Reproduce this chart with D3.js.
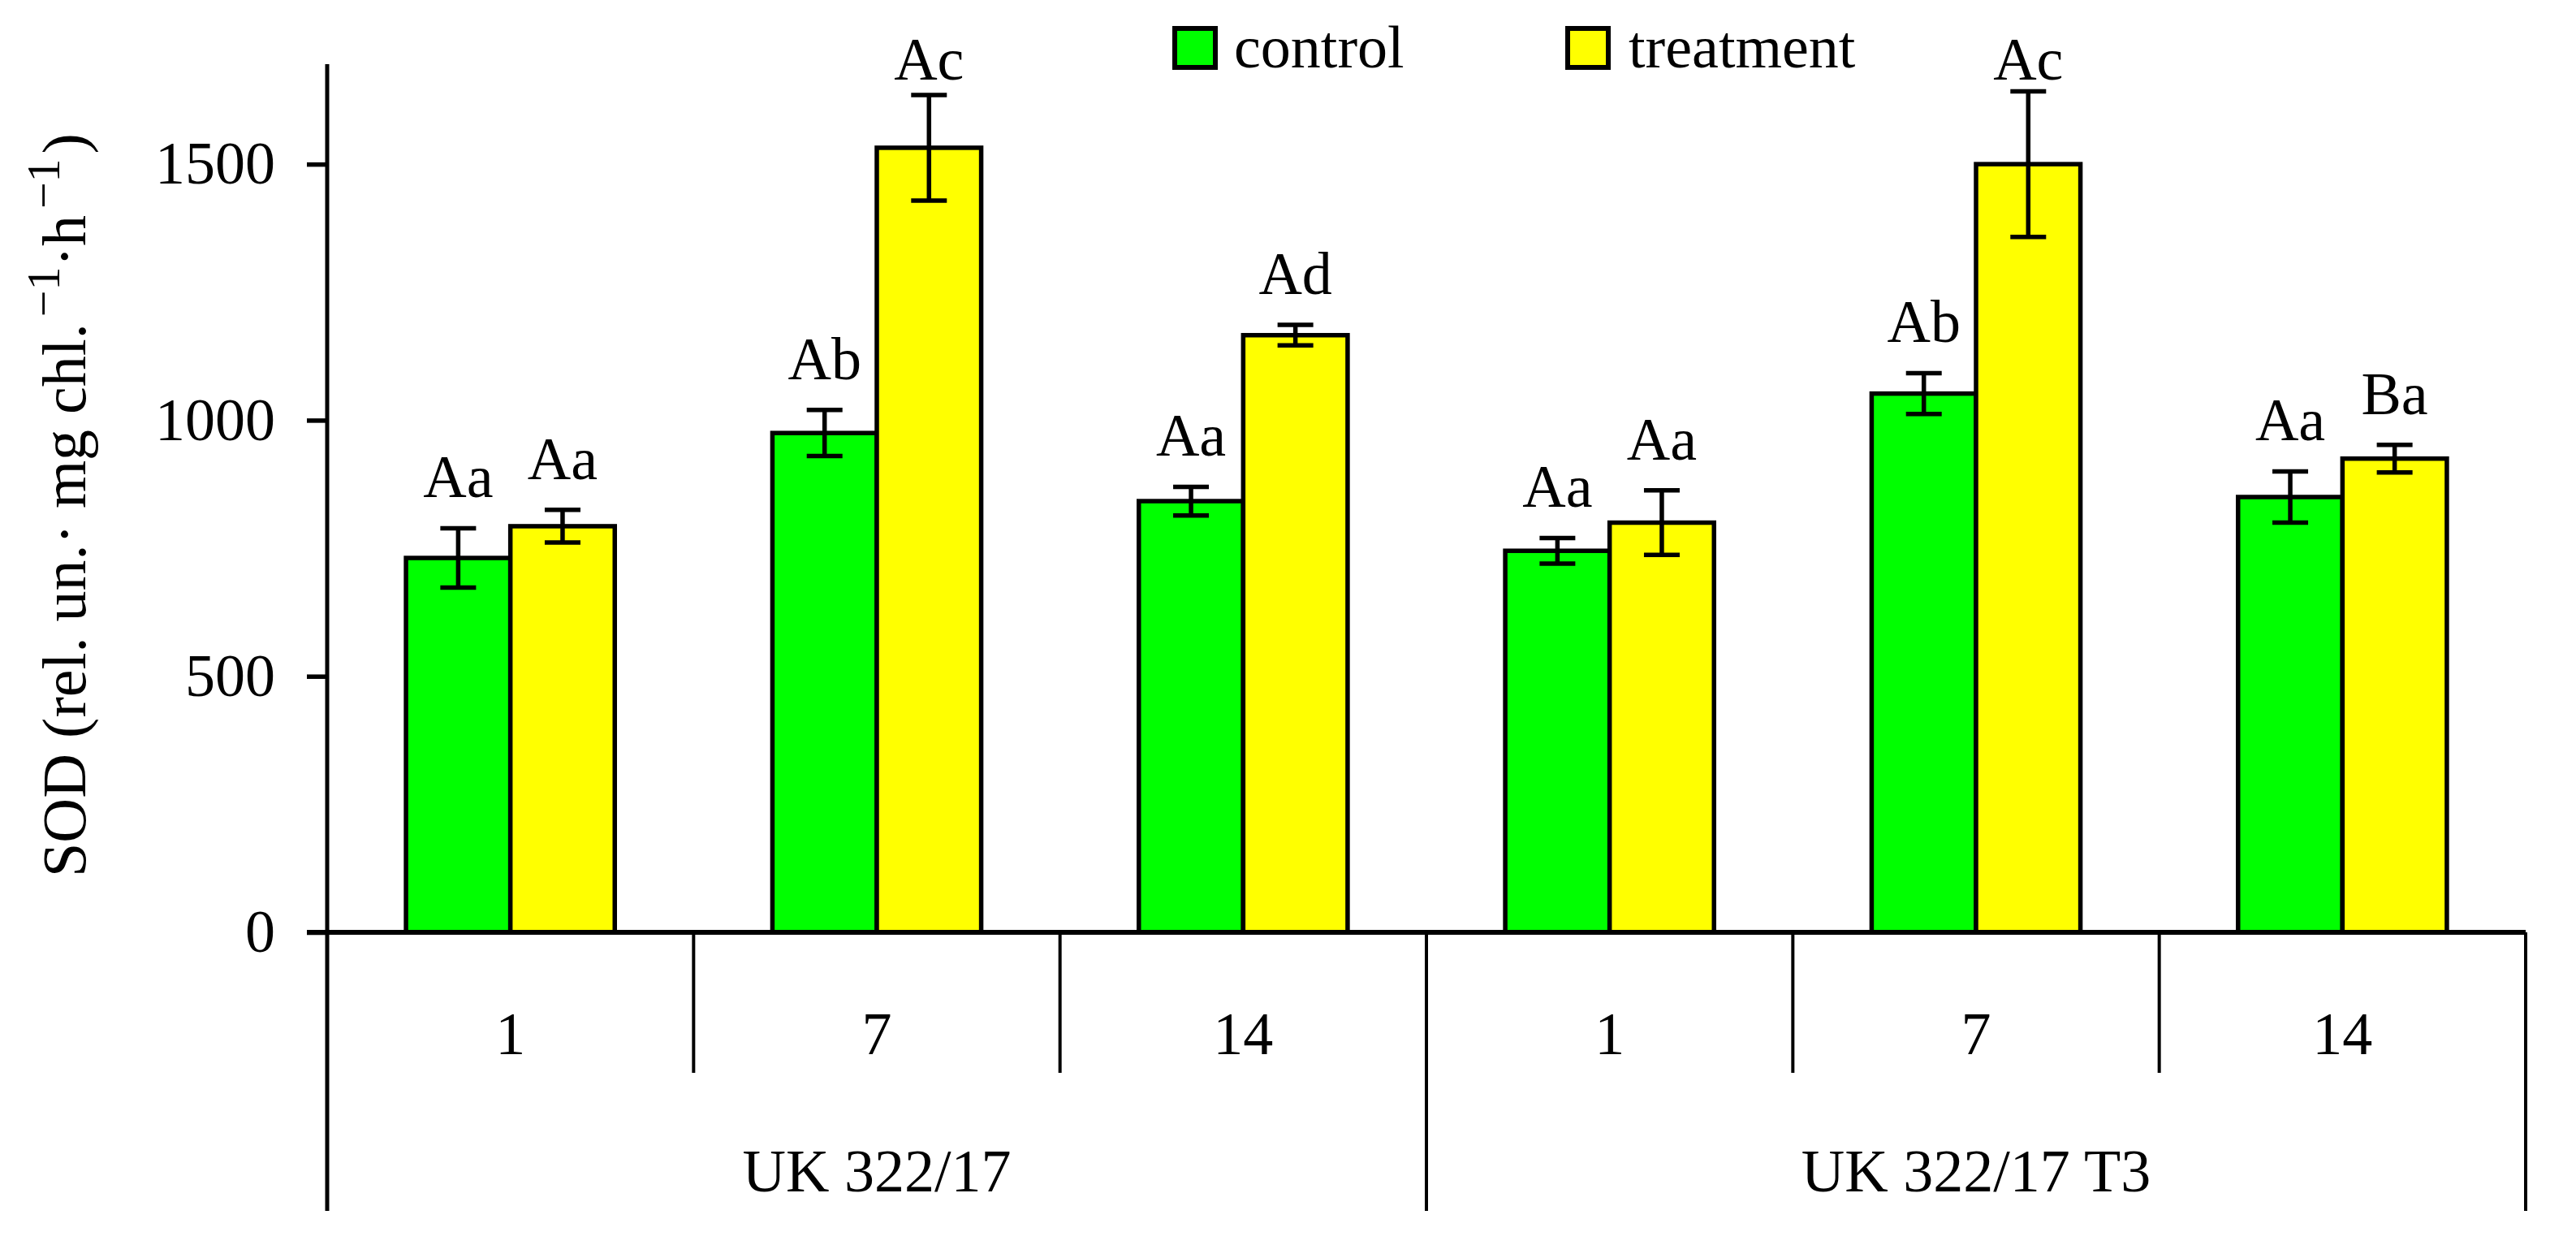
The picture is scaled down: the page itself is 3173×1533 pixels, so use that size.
<!DOCTYPE html>
<html>
<head>
<meta charset="utf-8">
<script src="https://cdn.jsdelivr.net/npm/d3@7"></script>
<style>
  html, body { margin: 0; padding: 0; background: #fff; }
  svg { display: block; }
  text { font-family: "Liberation Serif", "Times New Roman", serif; fill: #000; }
</style>
</head>
<body>
<svg id="chart" width="3173" height="1533"></svg>
<script>
// ---- data ----
const groups = ["UK 322/17", "UK 322/17 T3"];
const days = ["1", "7", "14"];
const series = ["control", "treatment"];
const controlValues = [731, 975, 842, 745, 1052, 850];
const controlErrors = [58, 45, 28, 25, 40, 50];
const treatmentValues = [793, 1532, 1166, 800, 1500, 925];
const treatmentErrors = [32, 103, 20, 63, 142, 27];
const controlLetters = ["Aa", "Ab", "Aa", "Aa", "Ab", "Aa"];
const treatmentLetters = ["Aa", "Ac", "Ad", "Aa", "Ac", "Ba"];
const yTicks = [0, 500, 1000, 1500];
const colors = { control: "#00ff00", treatment: "#ffff00" };

(function () {
// ---- layout ----
const svg = d3.select("#chart");
const mLeft = 403, mRight = 3111, mTop = 76, base = 1148;
const FS = 74;
const SW = 5.5;

const cats = [];
groups.forEach((g, gi) => days.forEach((d, di) => cats.push({ key: g + "|" + d, group: g, day: d, idx: gi * days.length + di })));

const x = d3.scaleBand().domain(cats.map(c => c.key)).range([mLeft, mRight]).padding(0);
const xs = d3.scaleBand().domain(series).range([0, x.bandwidth()]).paddingInner(0).paddingOuter(0.755);
const y = d3.scaleLinear().domain([0, 1700]).range([base, mTop]);

const bars = [];
cats.forEach(c => {
  bars.push({ cat: c.key, s: "control", v: controlValues[c.idx], e: controlErrors[c.idx], l: controlLetters[c.idx] });
  bars.push({ cat: c.key, s: "treatment", v: treatmentValues[c.idx], e: treatmentErrors[c.idx], l: treatmentLetters[c.idx] });
});

// bars
svg.append("g").selectAll("rect").data(bars).join("rect")
  .attr("x", d => x(d.cat) + xs(d.s))
  .attr("y", d => y(d.v))
  .attr("width", xs.bandwidth())
  .attr("height", d => y(0) - y(d.v))
  .attr("fill", d => colors[d.s])
  .attr("stroke", "#000")
  .attr("stroke-width", SW);

// error bars
const eb = svg.append("g").attr("stroke", "#000").attr("stroke-width", SW);
bars.forEach(d => {
  const cx = x(d.cat) + xs(d.s) + xs.bandwidth() / 2;
  const capW = 22;
  eb.append("line").attr("x1", cx).attr("x2", cx).attr("y1", y(d.v + d.e)).attr("y2", y(d.v - d.e));
  eb.append("line").attr("x1", cx - capW).attr("x2", cx + capW).attr("y1", y(d.v + d.e)).attr("y2", y(d.v + d.e));
  eb.append("line").attr("x1", cx - capW).attr("x2", cx + capW).attr("y1", y(d.v - d.e)).attr("y2", y(d.v - d.e));
});

// letters
svg.append("g").selectAll("text").data(bars).join("text")
  .attr("x", d => x(d.cat) + xs(d.s) + xs.bandwidth() / 2)
  .attr("y", d => Math.max(98, y(d.v + d.e) - 38))
  .attr("text-anchor", "middle")
  .attr("font-size", FS)
  .text(d => d.l);

// y axis
const yAxis = d3.axisLeft(y).tickValues(yTicks).tickSize(25).tickPadding(39).tickFormat(d3.format("d"));
const ya = svg.append("g").attr("transform", `translate(${mLeft},0)`).call(yAxis);
ya.select(".domain").remove();
ya.selectAll(".tick line").attr("stroke", "#000").attr("stroke-width", SW);
ya.selectAll(".tick text").attr("font-size", FS).attr("font-family", "Liberation Serif, Times New Roman, serif").attr("fill", "#000");

// axis lines
const axisG = svg.append("g").attr("stroke", "#000");
axisG.append("line").attr("x1", mLeft).attr("x2", mLeft).attr("y1", 79).attr("y2", 1491).attr("stroke-width", 5);
axisG.append("line").attr("x1", mLeft - 25).attr("x2", mRight).attr("y1", base).attr("y2", base).attr("stroke-width", 6);

// category separators
cats.forEach((c, i) => {
  if (i === 0) return;
  const xx = x(c.key);
  const isGroupEdge = (i % days.length) === 0;
  axisG.append("line").attr("x1", xx).attr("x2", xx).attr("y1", base).attr("y2", isGroupEdge ? 1491 : 1321).attr("stroke-width", 4);
});
axisG.append("line").attr("x1", mRight).attr("x2", mRight).attr("y1", base).attr("y2", 1491).attr("stroke-width", 4);

// day labels
svg.append("g").selectAll("text").data(cats).join("text")
  .attr("x", d => x(d.key) + x.bandwidth() / 2)
  .attr("y", 1298)
  .attr("text-anchor", "middle")
  .attr("font-size", FS)
  .text(d => d.day);

// group labels
svg.append("g").selectAll("text").data(groups).join("text")
  .attr("x", (g, gi) => {
    const first = x(cats[gi * days.length].key);
    const last = x(cats[gi * days.length + days.length - 1].key) + x.bandwidth();
    return (first + last) / 2;
  })
  .attr("y", 1467)
  .attr("text-anchor", "middle")
  .attr("font-size", FS)
  .text(g => g);

// y axis title
const yt = svg.append("text")
  .attr("transform", "translate(105,622) rotate(-90)")
  .attr("text-anchor", "middle")
  .attr("font-size", 76);
yt.append("tspan").text("SOD (rel. un.\u00B7 mg chl.");
yt.append("tspan").attr("font-size", 58).attr("dx", 8).attr("dy", -32).text("\u22121");
yt.append("tspan").attr("dy", 32).text("\u00B7h");
yt.append("tspan").attr("font-size", 58).attr("dx", 8).attr("dy", -32).text("\u22121");
yt.append("tspan").attr("dx", 6).attr("dy", 32).text(")");

// legend
const legendItems = [
  { s: "control", bx: 1447, tx: 1520 },
  { s: "treatment", bx: 1931, tx: 2006 }
];
const lg = svg.append("g");
legendItems.forEach(it => {
  lg.append("rect").attr("x", it.bx).attr("y", 35).attr("width", 50).attr("height", 48)
    .attr("fill", colors[it.s]).attr("stroke", "#000").attr("stroke-width", 6);
  lg.append("text").attr("x", it.tx).attr("y", 83).attr("font-size", FS).text(it.s);
});
})();
</script>
</body>
</html>
